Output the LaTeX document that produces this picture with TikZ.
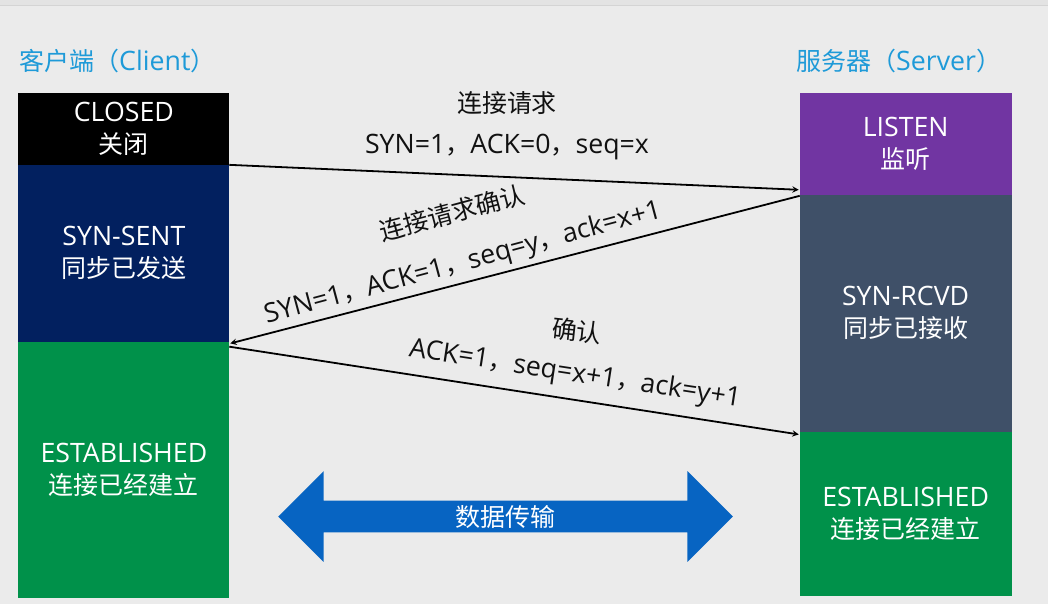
\documentclass[tikz,border=0pt]{standalone}
\usepackage{fontspec}
\setmainfont{Open Sans}[Scale=1.07]
\newfontfamily\cjk{Noto Sans CJK SC}
\usetikzlibrary{positioning,shapes.arrows}

\definecolor{bgc}{HTML}{EBEBEB}
\definecolor{topc}{HTML}{E3E3E3}
\definecolor{topline}{HTML}{D4D4D4}
\definecolor{titleblue}{HTML}{1E9AD8}
\definecolor{sentc}{HTML}{02205F}
\definecolor{estc}{HTML}{00914A}
\definecolor{listenc}{HTML}{7135A2}
\definecolor{rcvdc}{HTML}{3F5068}
\definecolor{flowc}{HTML}{0764C2}
\definecolor{labc}{HTML}{111111}

% fullwidth comma
\newcommand{\zc}{{\cjk ，}}

\begin{document}
\begin{tikzpicture}[x=1pt, y=-1pt,
            state/.style={rectangle, inner sep=0pt, outer sep=0pt, text=white,
                    align=center, font=\fontsize{25}{32}\selectfont},
            head/.style={text=titleblue, inner sep=0pt, font=\fontsize{25}{30}\selectfont},
            msg/.style={->, >=stealth, line width=1.8pt, shorten >=1pt},
            lab/.style={text=labc, inner sep=0pt, font=\fontsize{25}{30}\selectfont},
            flow/.style={double arrow, fill=flowc, text=white, inner sep=0pt,
                    double arrow head extend=22pt, minimum height=455pt,
                    minimum width=91pt, font=\fontsize{25}{30}\selectfont}
        ]
        \def\cx{123.5}
        \def\sx{906}

        \fill[bgc] (0,0) rectangle (1048,605);
        \fill[topc] (0,0) rectangle (1048,5);
        \draw[topline, line width=1pt] (0,5.5) -- (1048,5.5);
        \useasboundingbox (0,0) rectangle (1048,605);

        \node[head] (client) at (117,61) {{\cjk 客户端（}Client{\cjk ）}};
        \node[head] (server) at (899,61) {{\cjk 服务器（}Server{\cjk ）}};

        % client side
        \node[state, fill=black, minimum width=211pt, minimum height=72pt, anchor=north]
            (closed) at (\cx,93) {CLOSED\\{\cjk 关闭}};
        \node[state, fill=sentc, minimum width=211pt, minimum height=177pt, below=0pt of closed]
            (synsent) {SYN-SENT\\{\cjk 同步已发送}};
        \node[state, fill=estc, minimum width=211pt, minimum height=257pt, below=0pt of synsent]
            (estcli) {ESTABLISHED\\{\cjk 连接已经建立}};

        % server side
        \node[state, fill=listenc, minimum width=212pt, minimum height=102pt, anchor=north]
            (listen) at (\sx,93) {LISTEN\\{\cjk 监听}};
        \node[state, fill=rcvdc, minimum width=212pt, minimum height=237pt, below=0pt of listen]
            (synrcvd) {SYN-RCVD\\{\cjk 同步已接收}};
        \node[state, fill=estc, minimum width=212pt, minimum height=165pt, below=0pt of synrcvd]
            (estsrv) {ESTABLISHED\\{\cjk 连接已经建立}};

        \draw[msg] (closed.south east) -- ([yshift=5pt]listen.south west);
        \draw[msg] ([yshift=-1pt]listen.south west) -- ([yshift=-2pt]synsent.south east);
        \draw[msg] ([yshift=-5pt]synsent.south east) -- ([yshift=-3pt]estsrv.north west);

        \node[lab] (req) at (507,103) {\cjk 连接请求};
        \node[lab] (reqflags) at (507,147) {SYN=1\zc ACK=0\zc seq=x};
        \node[lab, rotate=15] (synack) at (452,213) {\cjk 连接请求确认};
        \node[lab, rotate=15] (synackflags) at (463,264) {SYN=1\zc ACK=1\zc seq=y\zc ack=x+1};
        \node[lab, rotate=-6] (ack) at (577,331) {\cjk 确认};
        \node[lab, rotate=-8.7] (ackflags) at (575,375) {ACK=1\zc seq=x+1\zc ack=y+1};

        \node[flow] (data) at (505.5,517) {\cjk 数据传输};
    \end{tikzpicture}
\end{document}
